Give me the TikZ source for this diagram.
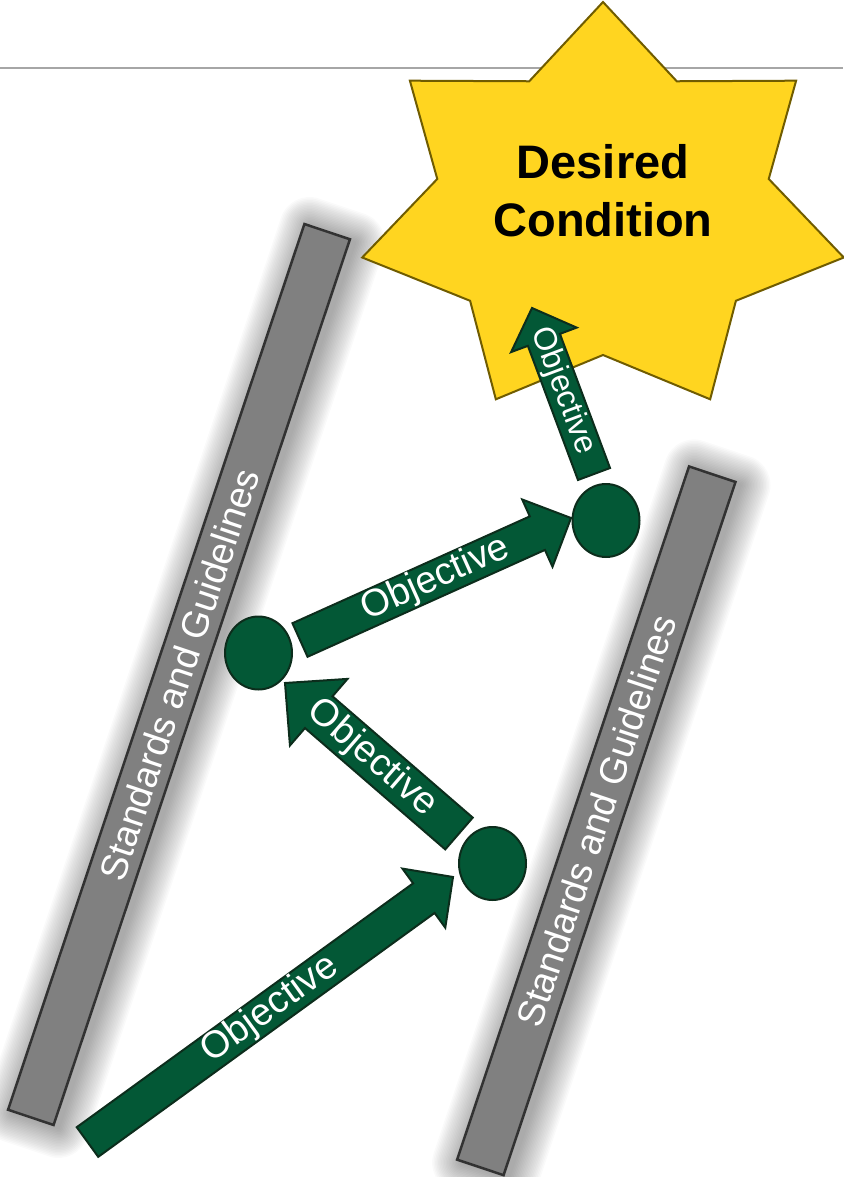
\documentclass[tikz,border=0pt]{standalone}
\usepackage{fontspec}
\setmainfont{Liberation Sans}
\usetikzlibrary{calc,shapes.geometric}

\definecolor{objgreen}{RGB}{3,88,54}
\definecolor{objedge}{RGB}{12,45,28}
\definecolor{barfill}{RGB}{128,128,128}
\definecolor{baredge}{RGB}{50,50,50}
\definecolor{starfill}{RGB}{255,213,32}
\definecolor{staredge}{RGB}{112,92,0}
\definecolor{rulegray}{RGB}{166,166,166}

% Block arrow from tail #1 to tip #2: shaft width #3, head width #4,
% head length #5, label size #6, name of the head-base coordinate #7
\newcommand\objarrow[7]{%
  \pgfmathsetmacro\objhs{#3/2}%
  \pgfmathsetmacro\objhh{#4/2}%
  \coordinate (#7) at ($(#2)!#5pt!(#1)$);
  \draw[objbody] ($(#1)!\objhs pt!90:(#2)$) -- ($(#7)!\objhs pt!90:(#2)$)
    -- ($(#7)!\objhh pt!90:(#2)$) -- (#2) -- ($(#7)!\objhh pt!-90:(#2)$)
    -- ($(#7)!\objhs pt!-90:(#2)$) -- ($(#1)!\objhs pt!-90:(#2)$) -- cycle;
  \path (#1) -- (#2) node[midway, sloped, objlabel, font=\fontsize{#6pt}{#6pt}\selectfont] {Objective};
}

% Soft halo behind a bar: centre #1, half length #2, half width #3 (pt)
\newcommand\barhalo[3]{%
  \begin{scope}[shift={($(#1)+(5,3)$)}, rotate=71.5]
    \foreach \i in {1,...,20}
      \fill[black, opacity=0.018, rounded corners={\i*1.5pt}]
        ({-#2pt-\i*1.5pt},{-#3pt-\i*1.5pt}) rectangle ({#2pt+\i*1.5pt},{#3pt+\i*1.5pt});
  \end{scope}%
}

\begin{document}
\begin{tikzpicture}[x=1pt, y=-1pt,
  rulestyle/.style={draw=rulegray, line width=1.6pt},
  bar/.style={draw=baredge, line width=2.5pt, fill=barfill, text=white, inner sep=0pt,
    font=\fontsize{37.5pt}{45pt}\selectfont},
  starshape/.style={draw=staredge, line width=2pt, fill=starfill, line join=miter},
  goaltext/.style={align=center, font=\bfseries\fontsize{47pt}{58pt}\selectfont, text=black},
  stepdot/.style={ellipse, draw=objedge, line width=2pt, fill=objgreen, inner sep=0pt,
    minimum width=67pt, minimum height=73pt},
  objbody/.style={draw=objedge, line width=2pt, fill=objgreen, line join=miter},
  objlabel/.style={text=white, inner sep=0pt}]

\useasboundingbox (0,0) rectangle (843,1177);

% header rule
\draw[rulestyle] (0,68) -- (843,68);

% the two boundary bars with their soft shadows
\coordinate (sglc) at (179,674.5);
\coordinate (sgrc) at (596.3,820.8);
\barhalo{sglc}{467}{24}
\barhalo{sgrc}{365.5}{24.5}
\node[bar, rotate=71.5, minimum width=934pt, minimum height=48pt] (sgleft) at (sglc) {Standards and Guidelines};
\node[bar, rotate=71.5, minimum width=731pt, minimum height=49pt] (sgright) at (sgrc) {Standards and Guidelines};

% seven-pointed goal star
\coordinate (starc) at (603,211);
\begin{scope}[shift={(starc)}]
  \draw[starshape] (90:247pt and 209pt)
    \foreach \k in {1,...,6} { -- ({90+(2*\k-1)*180/7}:170pt and 144pt) -- ({90+\k*360/7}:247pt and 209pt) }
    -- ({90+13*180/7}:170pt and 144pt) -- cycle;
\end{scope}
\node[goaltext] (goal) at (603,191) {Desired\\Condition};

% milestones
\node[stepdot] (c1) at (492.5,863.5) {};
\node[stepdot] (c2) at (258.5,653) {};
\node[stepdot] (c3) at (606,520.5) {};

% objectives
\coordinate (origin) at (87.5,1142);
\coordinate (o1t) at ($(c1)+(-39.5,13.5)$);
\objarrow{origin}{o1t}{36.6}{73}{36}{38}{o1b}

\coordinate (o2s) at ($(c1)+(-33.5,-30)$);
\coordinate (o2t) at ($(c2)+(26.5,30)$);
\objarrow{o2s}{o2t}{42}{88}{44.6}{38}{o2b}

\coordinate (o3s) at ($(c2)+(41.5,-13)$);
\coordinate (o3t) at ($(c3)+(-35,-2.5)$);
\objarrow{o3s}{o3t}{36.8}{73.8}{36.9}{38}{o3b}

\coordinate (o4s) at ($(c3)+(-12,-46.5)$);
\coordinate (o4t) at ($(starc)+(-71,97)$);
\objarrow{o4s}{o4t}{34.2}{70}{34}{32}{o4b}

\end{tikzpicture}
\end{document}
